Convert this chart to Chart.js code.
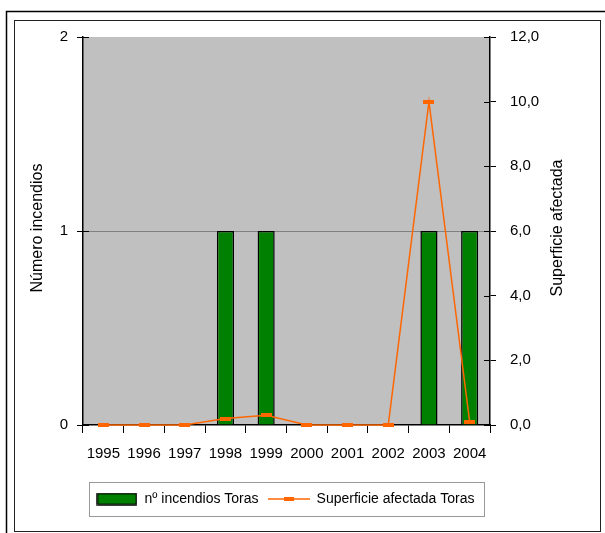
<!DOCTYPE html>
<html>
<head>
<meta charset="utf-8">
<script src="https://cdn.jsdelivr.net/npm/chart.js@4"></script>
<style>
  body { margin: 0; background: #fff; }
  canvas { display: block; }
</style>
</head>
<body>
<canvas id="chart" width="605" height="533"></canvas>
<script>
const years = ['1995', '1996', '1997', '1998', '1999', '2000', '2001', '2002', '2003', '2004'];
const numIncendios = [0, 0, 0, 1, 1, 0, 0, 0, 1, 1];
const superficie = [0, 0, 0, 0.2, 0.3, 0, 0, 0, 10, 0.1];
const leftTicks = [0, 1, 2];
const rightTicks = [0, 2, 4, 6, 8, 10, 12];

const FONT = "'Liberation Sans', Arial, sans-serif";
const ORANGE = '#FF6600';
const GREEN = '#008000';

// small canvases used as point styles
function makeMarker() {
  const c = document.createElement('canvas');
  c.width = 11; c.height = 4;
  const g = c.getContext('2d');
  g.fillStyle = ORANGE;
  g.fillRect(0, 0, 11, 4);
  return c;
}
function makeBarKey() {
  const c = document.createElement('canvas');
  c.width = 41; c.height = 13;
  const g = c.getContext('2d');
  g.fillStyle = GREEN;
  g.fillRect(1, 1, 39, 11);
  g.strokeStyle = '#000';
  g.lineWidth = 1.5;
  g.strokeRect(1, 1, 39, 11);
  return c;
}
function makeLineKey() {
  const c = document.createElement('canvas');
  c.width = 42; c.height = 6;
  const g = c.getContext('2d');
  g.strokeStyle = ORANGE;
  g.lineWidth = 1.5;
  g.beginPath(); g.moveTo(0, 3); g.lineTo(42, 3); g.stroke();
  g.fillStyle = ORANGE;
  g.fillRect(16, 1, 10, 4);
  return c;
}
const marker = makeMarker();

const frame = {
  id: 'frame',
  beforeDraw(chart) {
    const { ctx, chartArea } = chart;
    ctx.save();
    ctx.fillStyle = '#fff';
    ctx.fillRect(0, 0, chart.width, chart.height);
    ctx.strokeStyle = '#000';
    ctx.lineWidth = 1.5;
    ctx.strokeRect(6.5, 11.5, 640, 560);
    ctx.lineWidth = 1;
    ctx.strokeStyle = '#222';
    ctx.strokeRect(14.5, 20.5, 586, 511);
    ctx.fillStyle = '#C0C0C0';
    ctx.fillRect(chartArea.left, chartArea.top, chartArea.right - chartArea.left, chartArea.bottom - chartArea.top);
    ctx.restore();
  },
  afterDraw(chart) {
    const { ctx, chartArea, scales } = chart;
    ctx.save();
    // inner halves of the y-axis ticks
    ctx.strokeStyle = '#000';
    ctx.lineWidth = 1;
    scales.y.ticks.forEach(t => {
      const py = Math.round(scales.y.getPixelForValue(t.value)) + 0.5;
      ctx.beginPath(); ctx.moveTo(chartArea.left, py); ctx.lineTo(chartArea.left + 6, py); ctx.stroke();
    });
    scales.y1.ticks.forEach(t => {
      const py = Math.round(scales.y1.getPixelForValue(t.value)) + 0.5;
      ctx.beginPath(); ctx.moveTo(chartArea.right - 6, py); ctx.lineTo(chartArea.right, py); ctx.stroke();
    });
    // axis titles, both reading bottom to top
    const cy = (chartArea.top + chartArea.bottom) / 2;
    ctx.fillStyle = '#000';
    ctx.font = '16px ' + FONT;
    ctx.textAlign = 'center';
    ctx.textBaseline = 'middle';
    [[38, 'Número incendios'], [558, 'Superficie afectada']].forEach(([x, txt]) => {
      ctx.save();
      ctx.translate(x, cy - 3);
      ctx.rotate(-Math.PI / 2);
      ctx.fillText(txt, 0, 0);
      ctx.restore();
    });
    // legend frame
    const boxes = chart.legend.legendHitBoxes;
    if (boxes && boxes.length) {
      const l = Math.min(...boxes.map(b => b.left)) - 7;
      const r = Math.max(...boxes.map(b => b.left + b.width)) + 10;
      const t = Math.min(...boxes.map(b => b.top)) - 10;
      const b2 = Math.max(...boxes.map(b => b.top + b.height)) + 10;
      ctx.strokeStyle = '#999';
      ctx.lineWidth = 1;
      ctx.strokeRect(Math.round(l) + 0.5, Math.round(t) + 0.5, Math.round(r - l), Math.round(b2 - t));
    }
    ctx.restore();
  }
};

new Chart(document.getElementById('chart'), {
  data: {
    labels: years,
    datasets: [
      {
        type: 'bar',
        label: 'nº incendios Toras',
        data: numIncendios,
        yAxisID: 'y',
        backgroundColor: GREEN,
        borderColor: '#000',
        borderWidth: 1.5,
        barPercentage: 0.42,
        categoryPercentage: 1,
        order: 1,
      },
      {
        type: 'line',
        label: 'Superficie afectada Toras',
        data: superficie,
        yAxisID: 'y1',
        borderColor: ORANGE,
        backgroundColor: ORANGE,
        borderWidth: 1.5,
        pointStyle: marker,
        pointRadius: 5,
        tension: 0,
        clip: false,
        order: 0,
      },
    ],
  },
  options: {
    responsive: false,
    animation: false,
    layout: { padding: { left: 3, right: 37, top: 37, bottom: 17 } },
    plugins: {
      tooltip: { enabled: false },
      legend: {
        position: 'bottom',
        labels: {
          usePointStyle: true,
          pointStyleWidth: 41,
          boxHeight: 13,
          padding: 10,
          color: '#000',
          font: { family: FONT, size: 14 },
          generateLabels: () => [
            { text: 'nº incendios Toras', pointStyle: makeBarKey(), fillStyle: GREEN, strokeStyle: '#000', lineWidth: 0, datasetIndex: 0, fontColor: '#000' },
            { text: 'Superficie afectada Toras', pointStyle: makeLineKey(), fillStyle: ORANGE, strokeStyle: ORANGE, lineWidth: 0, datasetIndex: 1, fontColor: '#000' },
          ],
        },
      },
    },
    scales: {
      x: {
        offset: true,
        grid: { offset: true, drawOnChartArea: false, tickLength: 8, color: '#000', tickColor: '#000' },
        border: { color: '#000', width: 1.5 },
        ticks: { color: '#000', font: { family: FONT, size: 15 }, padding: 12, maxRotation: 0, autoSkip: false },
        afterFit: s => { s.height = 57; },
      },
      y: {
        position: 'left',
        min: 0,
        max: 2,
        afterBuildTicks: s => { s.ticks = leftTicks.map(v => ({ value: v })); },
        grid: {
          color: c => (c.tick && c.tick.value === 1 ? '#808080' : 'rgba(0,0,0,0)'),
          tickColor: '#000',
          tickLength: 6,
        },
        border: { color: '#000', width: 1.5 },
        ticks: { color: '#000', font: { family: FONT, size: 15 }, padding: 9 },
        afterFit: s => { s.width = 80; },
      },
      y1: {
        position: 'right',
        min: 0,
        max: 12,
        afterBuildTicks: s => { s.ticks = rightTicks.map(v => ({ value: v })); },
        grid: { drawOnChartArea: false, tickColor: '#000', tickLength: 6 },
        border: { color: '#000', width: 1.5 },
        ticks: {
          color: '#000',
          font: { family: FONT, size: 15 },
          padding: 14,
          callback: v => v.toFixed(1).replace('.', ','),
        },
        afterFit: s => { s.width = 78; },
      },
    },
  },
  plugins: [frame],
});
</script>
</body>
</html>
